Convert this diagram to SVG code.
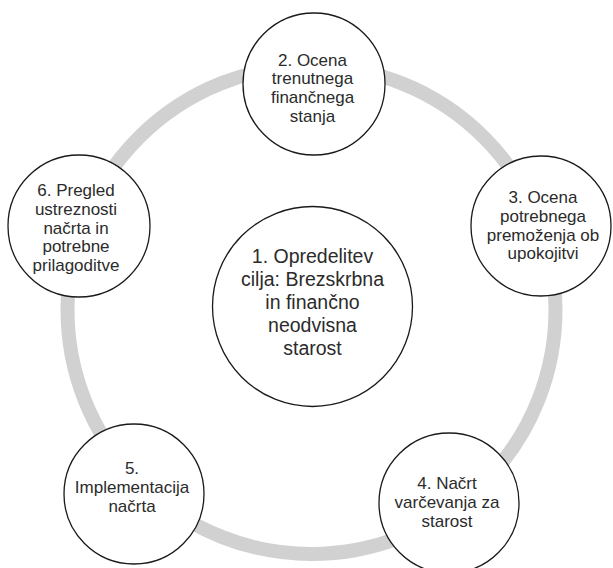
<svg xmlns="http://www.w3.org/2000/svg" width="613" height="568" viewBox="0 0 613 568">
<style>
.node circle{fill:#fff;stroke:#1a1a1a;stroke-width:1.3}
text{font-family:"Liberation Sans",Arial,sans-serif;fill:#2b2b2b;text-anchor:middle}
.s{font-size:17px}
.b{font-size:19.5px}
</style>
<rect width="613" height="568" fill="#fff"/>
<g id="connectors">
<circle cx="311.5" cy="310" r="244" fill="none" stroke="#d1d1d1" stroke-width="14"/>
</g>
<g id="n1" class="node">
<circle cx="312.5" cy="306.5" r="100"/>
<text class="b" x="312.5" y="262.5">1. Opredelitev</text>
<text class="b" x="312.5" y="285.5">cilja: Brezskrbna</text>
<text class="b" x="312.5" y="308.5">in finančno</text>
<text class="b" x="312.5" y="331.5">neodvisna</text>
<text class="b" x="312.5" y="354.5">starost</text>
</g>
<g id="n2" class="node">
<circle cx="314" cy="84" r="71"/>
<text class="s" x="312.5" y="65.5">2. Ocena</text>
<text class="s" x="312.5" y="84.3">trenutnega</text>
<text class="s" x="312.5" y="103.1">finančnega</text>
<text class="s" x="312.5" y="121.9">stanja</text>
</g>
<g id="n3" class="node">
<circle cx="541" cy="226" r="70"/>
<text class="s" x="543" y="203">3. Ocena</text>
<text class="s" x="543" y="221.8">potrebnega</text>
<text class="s" x="543" y="240.6">premoženja ob</text>
<text class="s" x="543" y="259.4">upokojitvi</text>
</g>
<g id="n4" class="node">
<circle cx="449" cy="503" r="70"/>
<text class="s" x="447" y="489">4. Načrt</text>
<text class="s" x="447" y="507.8">varčevanja za</text>
<text class="s" x="447" y="526.6">starost</text>
</g>
<g id="n5" class="node">
<circle cx="134" cy="494" r="70"/>
<text class="s" x="132" y="474">5.</text>
<text class="s" x="132" y="492.8">Implementacija</text>
<text class="s" x="132" y="511.6">načrta</text>
</g>
<g id="n6" class="node">
<circle cx="79" cy="226" r="71"/>
<text class="s" x="76" y="196">6. Pregled</text>
<text class="s" x="76" y="214.8">ustreznosti</text>
<text class="s" x="76" y="233.6">načrta in</text>
<text class="s" x="76" y="252.4">potrebne</text>
<text class="s" x="76" y="271.2">prilagoditve</text>
</g>
</svg>
